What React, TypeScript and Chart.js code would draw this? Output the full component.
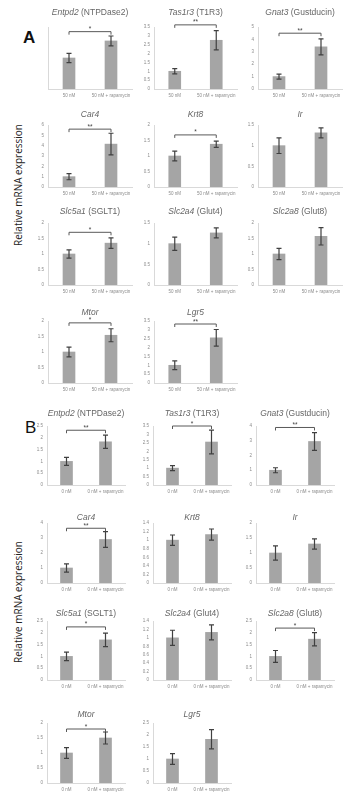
import React, { useEffect, useRef } from 'react';
import { Chart, registerables } from 'chart.js';

Chart.register(...registerables);

// ---- data ----------------------------------------------------------------
const GENES = ['Entpd2', 'Tas1r3', 'Gnat3', 'Car4', 'Krt8', 'Ir', 'Slc5a1', 'Slc2a4', 'Slc2a8', 'Mtor', 'Lgr5'];
const PROTEINS = ['NTPDase2', 'T1R3', 'Gustducin', '', '', '', 'SGLT1', 'Glut4', 'Glut8', '', ''];

const GROUPS_A = ['50 nM', '50 nM + rapamycin'];
const GROUPS_B = ['0 nM', '0 nM + rapamycin'];

// Panel A
const CONTROL_A = [1, 1, 1, 1, 1, 1, 1, 1, 1, 1, 1];
const RAPA_A = [1.55, 2.75, 3.4, 4.15, 1.38, 1.31, 1.35, 1.26, 1.57, 1.54, 2.55];
const CONTROL_ERR_A = [0.15, 0.15, 0.2, 0.3, 0.16, 0.19, 0.13, 0.16, 0.18, 0.16, 0.25];
const RAPA_ERR_A = [0.16, 0.54, 0.65, 1.05, 0.1, 0.12, 0.17, 0.12, 0.28, 0.21, 0.47];
const YMAX_A = [2, 3.5, 5, 6, 2, 1.5, 2, 1.5, 2, 2, 3.5];
const YSTEP_A = [0.5, 0.5, 1, 1, 0.5, 0.5, 0.5, 0.5, 0.5, 0.5, 0.5];
const SIG_A = ['*', '**', '**', '**', '*', '', '*', '', '', '*', '**'];
const SIG_LEVEL_A = [1.85, 3.62, 4.5, 5.6, 1.68, 0, 1.7, 0, 0, 1.94, 3.33];
const SHOW_Y_TICKS_A = [false, true, true, true, true, true, true, true, true, true, true];

// Panel B
const CONTROL_B = [1, 1, 1, 1, 1, 1, 1, 1, 1, 1, 1];
const RAPA_B = [1.83, 2.55, 2.95, 2.9, 1.13, 1.3, 1.7, 1.13, 1.73, 1.5, 1.82];
const CONTROL_ERR_B = [0.17, 0.15, 0.17, 0.28, 0.12, 0.24, 0.18, 0.18, 0.25, 0.18, 0.22];
const RAPA_ERR_B = [0.28, 0.7, 0.6, 0.52, 0.13, 0.17, 0.29, 0.18, 0.28, 0.2, 0.4];
const YMAX_B = [2.5, 3.5, 4, 4, 1.4, 2, 2.5, 1.4, 2.5, 2, 2.5];
const YSTEP_B = [0.5, 0.5, 0.5, 0.5, 0.2, 0.5, 0.5, 0.2, 0.5, 0.5, 0.5];
const SIG_B = ['**', '*', '**', '**', '', '', '*', '', '*', '*', ''];
const SIG_LEVEL_B = [2.32, 3.5, 3.9, 3.65, 0, 0, 2.25, 0, 2.2, 1.8, 0];
const SHOW_Y_TICKS_B = [true, true, true, true, true, true, true, true, true, true, true];

// ---- layout --------------------------------------------------------------
// [y-axis x, plot right]
const COLS_A = [[48, 132], [154, 237], [258, 342]];
const COLS_B = [[47, 125], [153, 231], [256, 334]];
// [title y, plot top, plot baseline]
const ROWS_A = [[13, 27, 89], [115, 125, 187], [212, 223, 285], [313, 321, 383]];
const ROWS_B = [[414, 426, 485], [518, 523, 583], [614, 621, 680], [715, 723, 783]];

const BAR_COLOR = '#a5a5a5';
const AXIS_COLOR = '#d9d9d9';
const TICK_COLOR = '#8c8c8c';
const TITLE_COLOR = '#666666';
const ERR_COLOR = '#404040';
const FONT = '"Liberation Sans", Arial, sans-serif';

type Spec = {
  gene: string;
  protein: string;
  groups: string[];
  values: number[];
  errs: number[];
  max: number;
  step: number;
  sig: string;
  sigLevel: number;
  showTicks: boolean;
  axis: number;
  right: number;
  titleY: number;
  top: number;
  base: number;
};

const Y_W = 20;
const X_H = 12;
const PAD_R = 16;

function MiniBar({ spec }: { spec: Spec }) {
  const ref = useRef<HTMLCanvasElement>(null);
  const padTop = spec.top - spec.titleY + 10;
  const left = spec.axis - Y_W;
  const topPx = spec.top - padTop;
  const w = spec.right - spec.axis + Y_W + PAD_R;
  const h = padTop + (spec.base - spec.top) + X_H;

  useEffect(() => {
    const canvas = ref.current;
    if (!canvas) return;

    const overlay = {
      id: 'overlay',
      afterDatasetsDraw(chart: any) {
        const ctx = chart.ctx as CanvasRenderingContext2D;
        const xs = chart.scales.x;
        const ys = chart.scales.y;
        const area = chart.chartArea;
        ctx.save();

        // error bars
        ctx.strokeStyle = ERR_COLOR;
        ctx.lineWidth = 1.2;
        spec.values.forEach((v, i) => {
          const x = xs.getPixelForValue(i);
          const y1 = ys.getPixelForValue(v + spec.errs[i]);
          const y2 = ys.getPixelForValue(v - spec.errs[i]);
          ctx.beginPath();
          ctx.moveTo(x, y1);
          ctx.lineTo(x, y2);
          ctx.moveTo(x - 2.5, y1);
          ctx.lineTo(x + 2.5, y1);
          ctx.moveTo(x - 2.5, y2);
          ctx.lineTo(x + 2.5, y2);
          ctx.stroke();
        });

        // significance bracket
        if (spec.sig) {
          const xa = xs.getPixelForValue(0);
          const xb = xs.getPixelForValue(1);
          const yb = ys.getPixelForValue(spec.sigLevel);
          ctx.strokeStyle = '#595959';
          ctx.lineWidth = 1;
          ctx.beginPath();
          ctx.moveTo(xa, yb + 3);
          ctx.lineTo(xa, yb);
          ctx.lineTo(xb, yb);
          ctx.lineTo(xb, yb + 3);
          ctx.stroke();
          ctx.fillStyle = '#404040';
          ctx.font = `6.5px ${FONT}`;
          ctx.textAlign = 'center';
          ctx.textBaseline = 'alphabetic';
          ctx.fillText(spec.sig, (xa + xb) / 2, yb - 0.5);
        }

        // title: gene in italics, protein upright
        const cx = (area.left + area.right) / 2;
        const ty = spec.titleY - topPx;
        const italic = `italic 8.5px ${FONT}`;
        const upright = `8.5px ${FONT}`;
        const rest = spec.protein ? ` (${spec.protein})` : '';
        ctx.font = italic;
        const w1 = ctx.measureText(spec.gene).width;
        ctx.font = upright;
        const w2 = ctx.measureText(rest).width;
        const x0 = cx - (w1 + w2) / 2;
        ctx.fillStyle = TITLE_COLOR;
        ctx.textAlign = 'left';
        ctx.textBaseline = 'middle';
        ctx.font = italic;
        ctx.fillText(spec.gene, x0, ty);
        ctx.font = upright;
        ctx.fillText(rest, x0 + w1, ty);

        ctx.restore();
      },
    };

    const chart = new Chart(canvas, {
      type: 'bar',
      data: {
        labels: spec.groups,
        datasets: [
          {
            data: spec.values,
            backgroundColor: BAR_COLOR,
            barThickness: 12,
          },
        ],
      },
      options: {
        animation: false,
        responsive: false,
        devicePixelRatio: 1,
        layout: { padding: { top: padTop, right: PAD_R, left: 0, bottom: 0 } },
        plugins: {
          legend: { display: false },
          tooltip: { enabled: false },
          title: { display: false },
        },
        scales: {
          x: {
            grid: { display: false, drawTicks: false },
            border: { color: AXIS_COLOR, width: 1 },
            ticks: {
              color: TICK_COLOR,
              font: { size: 4.5, family: FONT },
              padding: 4,
              maxRotation: 0,
              minRotation: 0,
              autoSkip: false,
            },
            afterFit: (s: any) => {
              s.height = X_H;
            },
          },
          y: {
            min: 0,
            max: spec.max,
            grid: { display: false, drawTicks: false },
            border: { color: AXIS_COLOR, width: 1 },
            ticks: {
              display: spec.showTicks,
              stepSize: spec.step,
              color: TICK_COLOR,
              font: { size: 4.5, family: FONT },
              padding: 4,
              callback: (v: any) => String(+Number(v).toFixed(2)),
            },
            afterFit: (s: any) => {
              s.width = Y_W;
            },
          },
        },
      },
      plugins: [overlay],
    });
    return () => chart.destroy();
  }, []);

  return (
    <canvas
      ref={ref}
      width={w}
      height={h}
      style={{ position: 'absolute', left, top: topPx, width: w, height: h }}
    />
  );
}

function buildPanel(
  groups: string[],
  control: number[],
  rapa: number[],
  cErr: number[],
  rErr: number[],
  ymax: number[],
  ystep: number[],
  sig: string[],
  sigLevel: number[],
  showTicks: boolean[],
  cols: number[][],
  rows: number[][]
): Spec[] {
  return GENES.map((gene, i) => {
    const col = cols[i % 3];
    const row = rows[Math.floor(i / 3)];
    return {
      gene,
      protein: PROTEINS[i],
      groups,
      values: [control[i], rapa[i]],
      errs: [cErr[i], rErr[i]],
      max: ymax[i],
      step: ystep[i],
      sig: sig[i],
      sigLevel: sigLevel[i],
      showTicks: showTicks[i],
      axis: col[0],
      right: col[1],
      titleY: row[0],
      top: row[1],
      base: row[2],
    };
  });
}

const PANEL_A = buildPanel(GROUPS_A, CONTROL_A, RAPA_A, CONTROL_ERR_A, RAPA_ERR_A, YMAX_A, YSTEP_A, SIG_A, SIG_LEVEL_A, SHOW_Y_TICKS_A, COLS_A, ROWS_A);
const PANEL_B = buildPanel(GROUPS_B, CONTROL_B, RAPA_B, CONTROL_ERR_B, RAPA_ERR_B, YMAX_B, YSTEP_B, SIG_B, SIG_LEVEL_B, SHOW_Y_TICKS_B, COLS_B, ROWS_B);

const yLabelStyle = (cy: number): React.CSSProperties => ({
  position: 'absolute',
  left: 18,
  top: cy,
  transform: 'translate(-50%, -50%) rotate(-90deg)',
  whiteSpace: 'nowrap',
  fontFamily: '"Open Sans", "Liberation Sans", sans-serif',
  fontSize: 10,
  color: '#222',
});

export default function App() {
  return (
    <div
      style={{
        position: 'absolute',
        left: 0,
        top: 0,
        width: 349,
        height: 798,
        background: '#fff',
        overflow: 'hidden',
      }}
    >
      <div
        style={{
          position: 'absolute',
          left: 23,
          top: 28,
          fontFamily: '"Liberation Sans", Arial, sans-serif',
          fontWeight: 'bold',
          fontSize: 17,
          color: '#111',
        }}
      >
        A
      </div>
      <div
        style={{
          position: 'absolute',
          left: 25,
          top: 418,
          fontFamily: '"Liberation Sans", Arial, sans-serif',
          fontSize: 17,
          color: '#111',
        }}
      >
        B
      </div>
      <div style={yLabelStyle(185)}>Relative mRNA expression</div>
      <div style={yLabelStyle(602)}>Relative mRNA expression</div>
      {PANEL_A.map((s, i) => (
        <MiniBar key={`a${i}`} spec={s} />
      ))}
      {PANEL_B.map((s, i) => (
        <MiniBar key={`b${i}`} spec={s} />
      ))}
    </div>
  );
}
